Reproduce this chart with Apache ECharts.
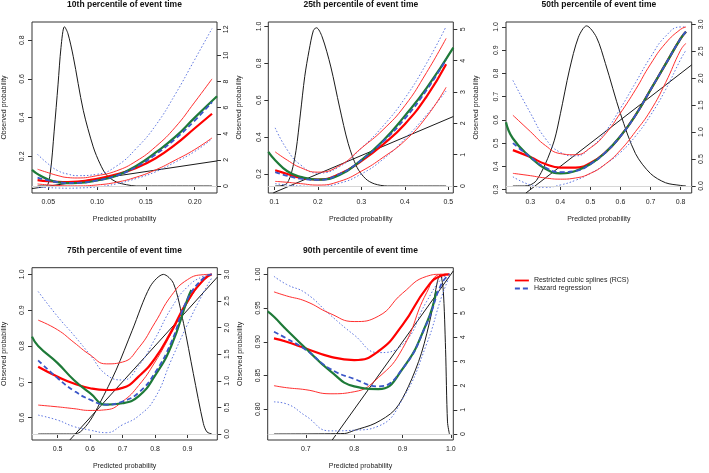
<!DOCTYPE html>
<html><head><meta charset="utf-8">
<script src="https://cdn.jsdelivr.net/npm/echarts@6/dist/echarts.min.js"></script>
<style>html,body{margin:0;padding:0;background:#fff}#c{width:709px;height:473px}</style>
</head><body><div id="c"></div>
<script>
// ---------- DATA ----------
const titles = ['10th percentile of event time','25th percentile of event time','50th percentile of event time','75th percentile of event time','90th percentile of event time'];
const legendNames = ['Restricted cubic splines (RCS)','Hazard regression'];

// Panel 1 (10th percentile)
const p1_x     = [0.039,0.05,0.06,0.07,0.08,0.10,0.12,0.14,0.16,0.18,0.20,0.2177];
const p1_rcs   = [0.077,0.071,0.068,0.067,0.069,0.084,0.107,0.14,0.19,0.26,0.345,0.42];
const p1_rcsHi = [0.133,0.115,0.10,0.09,0.088,0.10,0.125,0.175,0.25,0.35,0.48,0.60];
const p1_rcsLo = [0.057,0.052,0.049,0.047,0.047,0.052,0.066,0.092,0.13,0.18,0.235,0.295];
const p1_hr    = [0.09,0.075,0.066,0.062,0.063,0.075,0.10,0.145,0.21,0.29,0.385,0.48];
const p1_hrHi  = [0.21,0.16,0.125,0.108,0.10,0.107,0.15,0.24,0.36,0.52,0.70,0.86];
const p1_hrLo  = [0.04,0.038,0.036,0.035,0.036,0.042,0.058,0.085,0.12,0.17,0.225,0.29];
const p1_gx    = [0.0333,0.04,0.05,0.06,0.07,0.08,0.10,0.12,0.14,0.16,0.18,0.20,0.2228];
const p1_green = [0.13,0.105,0.08,0.066,0.061,0.062,0.075,0.10,0.15,0.22,0.30,0.40,0.51];
const p1_dx    = [0.039,0.048,0.052,0.056,0.06,0.063,0.0665,0.07,0.0756,0.0858,0.096,0.103,0.11,0.12,0.13,0.14,0.2177];
const p1_dens  = [0,0,1.0,4.2,7.8,10.6,12.2,11.7,9.9,5.8,3.0,1.7,0.8,0.3,0.1,0,0];
const p1_diagX = [0.0333,0.2228];
const p1_diagY = [0.033,0.176];
const p1_xTicks = [0.05,0.10,0.15,0.20];
const p1_yTicks = [0.2,0.4,0.6,0.8];
const p1_y2Ticks = [0,2,4,6,8,10,12];

// Panel 2 (25th percentile)
const p2_x     = [0.102,0.13,0.16,0.2,0.25,0.3,0.35,0.4,0.45,0.495];
const p2_rcs   = [0.22,0.20,0.18,0.17,0.20,0.27,0.36,0.47,0.62,0.795];
const p2_rcsHi = [0.32,0.275,0.235,0.21,0.245,0.34,0.44,0.57,0.75,0.935];
const p2_rcsLo = [0.16,0.155,0.148,0.14,0.16,0.215,0.29,0.38,0.51,0.67];
const p2_hr    = [0.21,0.19,0.175,0.168,0.2,0.275,0.375,0.50,0.655,0.82];
const p2_hrHi  = [0.45,0.33,0.25,0.205,0.24,0.34,0.46,0.61,0.80,1.0];
const p2_hrLo  = [0.148,0.14,0.135,0.133,0.15,0.2,0.28,0.39,0.52,0.65];
const p2_gx    = [0.0862,0.102,0.13,0.16,0.2,0.25,0.3,0.35,0.4,0.45,0.5115];
const p2_green = [0.32,0.275,0.215,0.185,0.17,0.195,0.275,0.38,0.515,0.665,0.885];
const p2_dx    = [0.102,0.12,0.13,0.14,0.15,0.16,0.17,0.18,0.19,0.197,0.21,0.23,0.25,0.27,0.29,0.31,0.33,0.36,0.495];
const p2_dens  = [0,0.02,0.1,0.45,1.14,2.3,3.5,4.33,4.97,5.05,4.76,3.8,2.52,1.35,0.6,0.23,0.07,0,0];
const p2_diagX = [0.0975,0.5115];
const p2_diagY = [0.0975,0.5115];
const p2_xTicks = [0.1,0.2,0.3,0.4,0.5];
const p2_yTicks = [0.2,0.4,0.6,0.8,1.0];
const p2_y2Ticks = [0,1,2,3,4,5];

// Panel 3 (50th percentile)
const p3_x     = [0.242,0.3,0.35,0.4,0.45,0.5,0.55,0.6,0.65,0.7,0.75,0.8,0.818];
const p3_rcs   = [0.47,0.44,0.41,0.395,0.395,0.415,0.46,0.53,0.62,0.73,0.84,0.95,0.98];
const p3_rcsHi = [0.62,0.55,0.49,0.455,0.45,0.48,0.54,0.63,0.73,0.84,0.93,0.99,1.0];
const p3_rcsLo = [0.37,0.36,0.35,0.345,0.35,0.37,0.41,0.47,0.55,0.64,0.76,0.9,0.93];
const p3_hr    = [0.50,0.44,0.395,0.375,0.38,0.41,0.46,0.53,0.62,0.73,0.84,0.95,0.98];
const p3_hrHi  = [0.77,0.63,0.52,0.46,0.445,0.48,0.55,0.65,0.76,0.87,0.96,1.0,1.0];
const p3_hrLo  = [0.355,0.32,0.31,0.32,0.34,0.37,0.41,0.46,0.53,0.62,0.73,0.86,0.9];
const p3_gx    = [0.219,0.242,0.3,0.35,0.4,0.45,0.5,0.55,0.6,0.65,0.7,0.75,0.8,0.818];
const p3_green = [0.59,0.52,0.44,0.39,0.37,0.38,0.41,0.46,0.53,0.62,0.73,0.84,0.95,0.98];
const p3_dx    = [0.242,0.28,0.3,0.32,0.35,0.38,0.4,0.43,0.46,0.487,0.52,0.55,0.6,0.65,0.7,0.75,0.8,0.818];
const p3_dens  = [0,0,0.02,0.1,0.41,0.85,1.34,2.15,2.76,2.97,2.76,2.27,1.34,0.6,0.23,0.06,0.01,0];
const p3_diagX = [0.2854,0.837];
const p3_diagY = [0.2854,0.837];
const p3_xTicks = [0.3,0.4,0.5,0.6,0.7,0.8];
const p3_yTicks = [0.3,0.4,0.5,0.6,0.7,0.8,0.9,1.0];
const p3_y2Ticks = [0,0.5,1.0,1.5,2.0,2.5,3.0];

// Panel 4 (75th percentile)
const p4_x     = [0.44,0.5,0.55,0.6,0.65,0.7,0.75,0.8,0.85,0.9,0.95,0.975];
const p4_rcs   = [0.742,0.714,0.695,0.682,0.677,0.683,0.715,0.765,0.84,0.925,0.985,1.0];
const p4_rcsHi = [0.872,0.845,0.81,0.775,0.75,0.755,0.795,0.865,0.94,0.985,0.999,1.0];
const p4_rcsLo = [0.635,0.63,0.625,0.62,0.622,0.645,0.69,0.755,0.835,0.92,0.985,1.0];
const p4_hr    = [0.76,0.71,0.675,0.65,0.636,0.645,0.67,0.725,0.81,0.93,0.99,1.0];
const p4_hrHi  = [0.952,0.882,0.83,0.775,0.72,0.705,0.745,0.82,0.905,0.965,0.995,1.0];
const p4_hrLo  = [0.607,0.593,0.575,0.565,0.558,0.58,0.605,0.655,0.76,0.86,0.95,0.99];
const p4_gx    = [0.421,0.44,0.5,0.55,0.6,0.65,0.7,0.75,0.8,0.85,0.9,0.912];
const p4_green = [0.826,0.80,0.752,0.705,0.668,0.636,0.64,0.66,0.717,0.80,0.93,0.956];
const p4_dx    = [0.44,0.55,0.57,0.6,0.63,0.68,0.73,0.785,0.826,0.857,0.888,0.918,0.949,0.96,0.975];
const p4_dens  = [0,0,0.04,0.25,0.58,1.2,1.95,2.77,3.0,2.83,2.08,1.14,0.2,0.04,0];
const p4_diagX = [0.5375,0.992];
const p4_diagY = [0.5375,0.992];
const p4_xTicks = [0.5,0.6,0.7,0.8,0.9];
const p4_yTicks = [0.6,0.7,0.8,0.9,1.0];
const p4_y2Ticks = [0,0.5,1.0,1.5,2.0,2.5,3.0];

// Panel 5 (90th percentile)
const p5_x     = [0.634,0.66,0.7,0.75,0.8,0.85,0.9,0.95,0.98,0.997];
const p5_rcs   = [0.905,0.90,0.89,0.878,0.873,0.886,0.925,0.98,0.998,1.0];
const p5_rcsHi = [0.974,0.968,0.96,0.942,0.93,0.938,0.972,0.997,1.0,1.0];
const p5_rcsLo = [0.835,0.832,0.829,0.823,0.826,0.847,0.89,0.973,1.0,1.0];
const p5_hr    = [0.915,0.905,0.888,0.86,0.845,0.834,0.86,0.927,0.985,1.0];
const p5_hrHi  = [0.997,0.985,0.972,0.94,0.91,0.884,0.896,0.96,0.993,1.0];
const p5_hrLo  = [0.811,0.808,0.79,0.768,0.769,0.775,0.815,0.897,0.965,0.997];
const p5_gx    = [0.621,0.634,0.66,0.7,0.75,0.8,0.85,0.9,0.95,0.97];
const p5_green = [0.945,0.937,0.918,0.89,0.857,0.834,0.83,0.86,0.928,0.975];
const p5_dx    = [0.634,0.78,0.80,0.843,0.884,0.912,0.939,0.96,0.972,0.978,0.984,0.989,0.993,0.997];
const p5_dens  = [0,0.02,0.15,0.44,1.0,1.96,3.34,5.0,6.3,6.6,6.0,3.5,0.5,0];
const p5_diagX = [0.7545,1.005];
const p5_diagY = [0.7545,1.005];
const p5_xTicks = [0.7,0.8,0.9,1.0];
const p5_yTicks = [0.80,0.85,0.90,0.95,1.00];
const p5_y2Ticks = [0,1,2,3,4,5,6];

// ---------- LAYOUT ----------
const FONT = '"Liberation Sans", Arial, Helvetica, sans-serif';
const TXT = '#222';
const RED = '#ff0000', GREEN = '#1e7a38', BLUE = '#3a56c8', BLUE2 = '#5b74e0', BLACK = '#1a1a1a';

const panels = [
  {grid:{left:32,top:22,width:185,height:171}, x:[0.0333,0.2228], y:[0.0103,0.894], y2:[-0.536,12.56], xd:2, yd:1, y2d:0, yGap:24,
   xs:p1_x, rcs:p1_rcs, rcsHi:p1_rcsHi, rcsLo:p1_rcsLo, hr:p1_hr, hrHi:p1_hrHi, hrLo:p1_hrLo, gx:p1_gx, green:p1_green, dx:p1_dx, dens:p1_dens, diagX:p1_diagX, diagY:p1_diagY, xt:p1_xTicks, yt:p1_yTicks, y2t:p1_y2Ticks},
  {grid:{left:268.3,top:22,width:185,height:171}, x:[0.0862,0.5115], y:[0.097,1.024], y2:[-0.223,5.235], xd:1, yd:1, y2d:0, yGap:26,
   xs:p2_x, rcs:p2_rcs, rcsHi:p2_rcsHi, rcsLo:p2_rcsLo, hr:p2_hr, hrHi:p2_hrHi, hrLo:p2_hrLo, gx:p2_gx, green:p2_green, dx:p2_dx, dens:p2_dens, diagX:p2_diagX, diagY:p2_diagY, xt:p2_xTicks, yt:p2_yTicks, y2t:p2_y2Ticks},
  {grid:{left:506,top:22,width:185.7,height:171}, x:[0.219,0.837], y:[0.2854,1.0215], y2:[-0.13,3.042], xd:1, yd:1, y2d:1, yGap:26,
   xs:p3_x, rcs:p3_rcs, rcsHi:p3_rcsHi, rcsLo:p3_rcsLo, hr:p3_hr, hrHi:p3_hrHi, hrLo:p3_hrLo, gx:p3_gx, green:p3_green, dx:p3_dx, dens:p3_dens, diagX:p3_diagX, diagY:p3_diagY, xt:p3_xTicks, yt:p3_yTicks, y2t:p3_y2Ticks},
  {grid:{left:31.7,top:267.7,width:185.6,height:172.3}, x:[0.421,0.992], y:[0.5375,1.0184], y2:[-0.113,3.126], xd:1, yd:1, y2d:1, yGap:24,
   xs:p4_x, rcs:p4_rcs, rcsHi:p4_rcsHi, rcsLo:p4_rcsLo, hr:p4_hr, hrHi:p4_hrHi, hrLo:p4_hrLo, gx:p4_gx, green:p4_green, dx:p4_dx, dens:p4_dens, diagX:p4_diagX, diagY:p4_diagY, xt:p4_xTicks, yt:p4_yTicks, y2t:p4_y2Ticks},
  {grid:{left:267.7,top:267.7,width:185.6,height:172.3}, x:[0.621,1.005], y:[0.7545,1.0098], y2:[-0.248,6.88], xd:1, yd:2, y2d:0, yGap:24,
   xs:p5_x, rcs:p5_rcs, rcsHi:p5_rcsHi, rcsLo:p5_rcsLo, hr:p5_hr, hrHi:p5_hrHi, hrLo:p5_hrLo, gx:p5_gx, green:p5_green, dx:p5_dx, dens:p5_dens, diagX:p5_diagX, diagY:p5_diagY, xt:p5_xTicks, yt:p5_yTicks, y2t:p5_y2Ticks}
];

function zip(xs, ys){ return xs.map((x,i)=>[x, ys[i]]); }
const txt = {fontSize:7, color:TXT, fontFamily:FONT};

const grids=[], xAxes=[], yAxes=[], series=[], graphics=[];
panels.forEach((p,i)=>{
  grids.push(Object.assign({show:true, borderColor:'#333', borderWidth:1, backgroundColor:'transparent'}, p.grid));
  xAxes.push({type:'value', gridIndex:i, min:p.x[0], max:p.x[1], splitLine:{show:false}, axisLine:{show:false},
    axisTick:{show:true, inside:false, length:4, customValues:p.xt, lineStyle:{color:'#333', width:1}},
    axisLabel:Object.assign({customValues:p.xt, margin:6, formatter:v=>v.toFixed(p.xd)}, txt),
    name:'Predicted probability', nameLocation:'middle', nameGap:23, nameTextStyle:txt});
  yAxes.push({type:'value', gridIndex:i, position:'left', min:p.y[0], max:p.y[1], splitLine:{show:false}, axisLine:{show:false},
    axisTick:{show:true, inside:false, length:4, customValues:p.yt, lineStyle:{color:'#333', width:1}},
    axisLabel:Object.assign({customValues:p.yt, margin:6, rotate:90, formatter:v=>v.toFixed(p.yd)}, txt),
    name:'Observed probability', nameLocation:'middle', nameRotate:90, nameGap:p.yGap, nameTextStyle:txt});
  yAxes.push({type:'value', gridIndex:i, position:'right', min:p.y2[0], max:p.y2[1], splitLine:{show:false}, axisLine:{show:false},
    axisTick:{show:true, inside:false, length:4, customValues:p.y2t, lineStyle:{color:'#333', width:1}},
    axisLabel:Object.assign({customValues:p.y2t, margin:6, rotate:90, formatter:v=>v.toFixed(p.y2d)}, txt)});
  const L = 2*i, R = 2*i+1;
  const mk = (name, yi, data, color, width, type, smooth, extra)=>Object.assign({
    type:'line', name, xAxisIndex:i, yAxisIndex:yi, data, symbol:'none', showSymbol:false,
    smooth: smooth, lineStyle:{color, width, type}, itemStyle:{color}, animation:false, silent:true}, extra||{});
  series.push(mk('diag'+i, L, zip(p.diagX, p.diagY), BLACK, 1, 'solid', false));
  series.push(mk('dens'+i, R, zip(p.dx, p.dens), BLACK, 1, 'solid', 0.3, {
    markLine:{silent:true, symbol:'none', label:{show:false}, lineStyle:{color:'#d6d6d6', width:1, type:'solid'}, data:[{yAxis:0}]}}));
  series.push(mk('hrLo'+i, L, zip(p.xs, p.hrLo), BLUE2, 1, [1.5,2], true));
  series.push(mk('hrHi'+i, L, zip(p.xs, p.hrHi), BLUE2, 1, [1.5,2], true));
  series.push(mk('rcsLo'+i, L, zip(p.xs, p.rcsLo), '#ff3030', 1, 'solid', true));
  series.push(mk('rcsHi'+i, L, zip(p.xs, p.rcsHi), '#ff3030', 1, 'solid', true));
  series.push(mk(legendNames[0], L, zip(p.xs, p.rcs), RED, 2.2, 'solid', true));
  series.push(mk('green'+i, L, zip(p.gx, p.green), GREEN, 2.2, 'solid', true));
  series.push(mk(legendNames[1], L, zip(p.xs, p.hr), BLUE, 1.8, [5,3], true));
  const cx = p.grid.left + p.grid.width/2;
  graphics.push({type:'text', x:cx, y:p.grid.top-17, silent:true,
    style:{text:titles[i], fontSize:8.5, fontWeight:'bold', fontFamily:FONT, fill:'#111', align:'center', verticalAlign:'middle'}});
});

const chart = echarts.init(document.getElementById('c'), null, {renderer:'canvas'});
chart.setOption({
  animation:false,
  backgroundColor:'#fff',
  grid:grids, xAxis:xAxes, yAxis:yAxes, series:series, graphic:graphics,
  legend:{data:legendNames, orient:'vertical', left:509, top:272, itemWidth:14, itemHeight:7, itemGap:1,
    itemStyle:{opacity:0}, lineStyle:{width:1.8},
    textStyle:{fontSize:7, color:TXT, fontFamily:FONT}, selectedMode:false}
});
</script></body></html>
